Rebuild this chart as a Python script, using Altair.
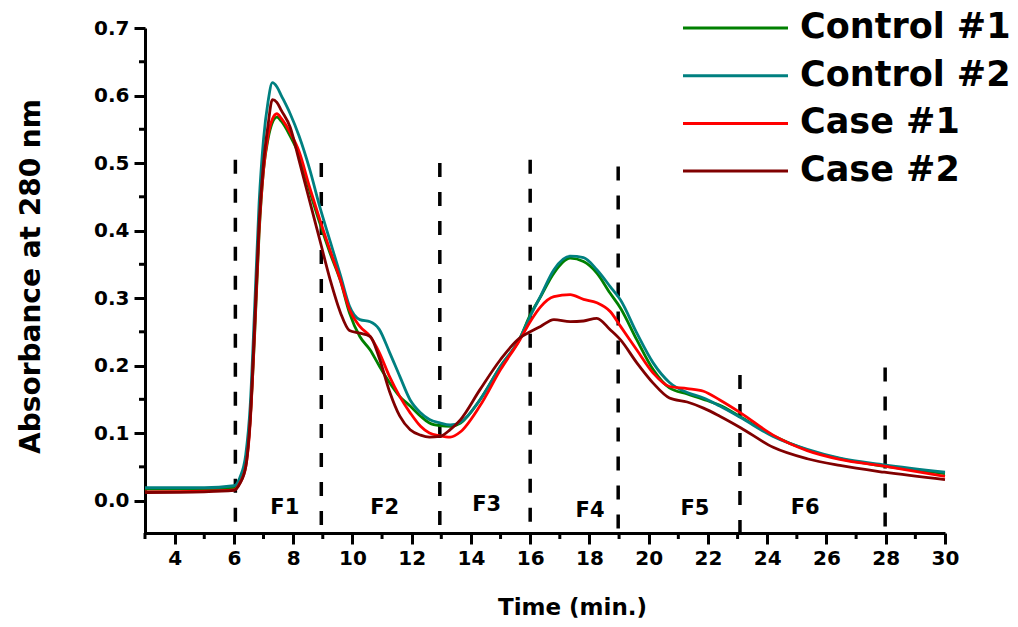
import altair as alt
import pandas as pd

# Elution time grid (min) shared by the four chromatograms
time_min = [3.0, 5.0, 6.0, 6.2, 6.4, 6.55, 6.7, 6.85, 7.0, 7.15, 7.3, 7.45, 7.6, 7.9,
            8.2, 8.55, 8.9, 9.25, 9.6, 9.9, 10.25, 10.6, 10.9, 11.25, 11.6, 11.95,
            12.3, 12.6, 12.95, 13.3, 13.65, 14.3, 15.0, 15.65, 16.0, 16.35, 16.8,
            17.35, 17.8, 18.25, 18.7, 19.05, 19.6, 20.15, 20.7, 21.3, 21.85, 22.4,
            23.1, 24.2, 25.35, 26.45, 27.95, 30.0]

# Absorbance at 280 nm for each run
control_1 = [0.017, 0.017, 0.019, 0.028, 0.055, 0.12, 0.245, 0.395, 0.49, 0.535, 0.56,
             0.568, 0.562, 0.54, 0.512, 0.46, 0.411, 0.366, 0.325, 0.278, 0.243, 0.223,
             0.2, 0.175, 0.154, 0.14, 0.125, 0.115, 0.111, 0.11, 0.115, 0.149, 0.199,
             0.24, 0.275, 0.302, 0.337, 0.359, 0.354, 0.337, 0.307, 0.285, 0.238,
             0.194, 0.167, 0.158, 0.15, 0.141, 0.124, 0.096, 0.075, 0.062, 0.051, 0.04]
control_2 = [0.019, 0.019, 0.022, 0.034, 0.068, 0.14, 0.285, 0.44, 0.535, 0.59, 0.619,
             0.613, 0.6, 0.573, 0.54, 0.492, 0.435, 0.384, 0.333, 0.288, 0.268,
             0.265, 0.254, 0.22, 0.184, 0.149, 0.13, 0.12, 0.115, 0.112, 0.116, 0.149,
             0.199, 0.24, 0.273, 0.303, 0.342, 0.362, 0.36, 0.342, 0.317, 0.297,
             0.248, 0.204, 0.175, 0.16, 0.152, 0.14, 0.123, 0.095, 0.076, 0.063,
             0.053, 0.042]
case_1 = [0.013, 0.014, 0.016, 0.026, 0.05, 0.115, 0.25, 0.4, 0.49, 0.54, 0.565, 0.573,
          0.566, 0.545, 0.517, 0.465, 0.416, 0.37, 0.326, 0.283, 0.258, 0.243, 0.22,
          0.184, 0.154, 0.13, 0.11, 0.1, 0.096, 0.094, 0.102, 0.14, 0.194, 0.238,
          0.265, 0.287, 0.302, 0.305, 0.298, 0.293, 0.28, 0.258, 0.223, 0.189, 0.169,
          0.166, 0.162, 0.149, 0.13, 0.097, 0.074, 0.061, 0.051, 0.036]
case_2 = [0.012, 0.013, 0.015, 0.025, 0.05, 0.12, 0.26, 0.41, 0.5, 0.555, 0.594, 0.59,
          0.578, 0.553, 0.504, 0.445, 0.386, 0.327, 0.278, 0.252, 0.248, 0.243, 0.212,
          0.162, 0.125, 0.105, 0.097, 0.094, 0.095, 0.105, 0.12, 0.164, 0.209, 0.241,
          0.25, 0.258, 0.268, 0.265, 0.266, 0.27, 0.253, 0.238, 0.204, 0.174, 0.152,
          0.146, 0.137, 0.125, 0.108, 0.079, 0.062, 0.052, 0.042, 0.031]

series_names = ["Control #1", "Control #2", "Case #1", "Case #2"]
series_colors = ["#008000", "#008080", "#ff0000", "#800000"]

# Fraction boundaries (dashed markers) and fraction names
cut_times = [6.05, 8.95, 12.95, 16.0, 18.97, 23.08, 27.98]
cut_tops = [0.505, 0.5, 0.5, 0.505, 0.495, 0.186, 0.197]
fraction_names = ["F1", "F2", "F3", "F4", "F5", "F6"]
fraction_times = [7.72, 11.09, 14.53, 18.02, 21.56, 25.28]
fraction_levels = [-0.011, -0.011, -0.007, -0.015, -0.013, -0.011]

# Axis ticks
x_major = [4, 6, 8, 10, 12, 14, 16, 18, 20, 22, 24, 26, 28, 30]
x_minor = [3, 5, 7, 9, 11, 13, 15, 17, 19, 21, 23, 25, 27, 29]
y_major = [0.0, 0.1, 0.2, 0.3, 0.4, 0.5, 0.6, 0.7]
y_minor = [0.05, 0.15, 0.25, 0.35, 0.45, 0.55, 0.65]

FONT = "DejaVu Sans"
W, H = 800, 505

rows = []
for name, vals in zip(series_names, [control_1, control_2, case_1, case_2]):
    for t, v in zip(time_min, vals):
        rows.append({"series": name, "time": t, "absorbance": v})
curves = pd.DataFrame(rows)

cuts = pd.DataFrame({"time": cut_times, "absorbance": cut_tops})
fractions = pd.DataFrame({"time": fraction_times, "absorbance": fraction_levels,
                          "label": fraction_names})
xminor_df = pd.DataFrame({"time": x_minor})
yminor_df = pd.DataFrame({"absorbance": y_minor})

x_axis = alt.Axis(
    values=x_major, format="d", grid=False,
    domainColor="black", domainWidth=3, tickColor="black", tickWidth=3, tickSize=11,
    labelFont=FONT, labelFontSize=20, labelFontWeight="bold", labelColor="black",
    labelPadding=4, labelFlush=False,
    title="Time (min.)", titleFont=FONT, titleFontSize=23, titleFontWeight="bold",
    titleColor="black", titleX=427, titleY=74, titleAlign="center",
    titleBaseline="middle",
)
y_axis = alt.Axis(
    values=y_major, format=".1f", grid=False,
    domainColor="black", domainWidth=3, tickColor="black", tickWidth=3, tickSize=11,
    labelFont=FONT, labelFontSize=20, labelFontWeight="bold", labelColor="black",
    labelPadding=5,
    title="Absorbance at 280 nm", titleFont=FONT, titleFontSize=28,
    titleFontWeight="bold", titleColor="black", titleX=-114, titleY=248,
    titleAngle=-90, titleAlign="center", titleBaseline="middle",
)

X = alt.X("time:Q", scale=alt.Scale(domain=[3, 30], nice=False, zero=False), axis=x_axis)
Y = alt.Y("absorbance:Q", scale=alt.Scale(domain=[-0.048, 0.7], nice=False, zero=False),
          axis=y_axis)

layers = []

# Minor ticks on both axes
layers.append(alt.Chart(xminor_df).mark_rule(color="black", strokeWidth=3).encode(
    x=X, y=alt.value(H), y2=alt.value(H + 6)))
layers.append(alt.Chart(yminor_df).mark_rule(color="black", strokeWidth=3).encode(
    y=Y, x=alt.value(0), x2=alt.value(-6)))

# Dashed fraction boundaries
layers.append(alt.Chart(cuts).mark_rule(color="black", strokeWidth=3.5,
                                        strokeDash=[14, 15]).encode(
    x=X, y=Y, y2=alt.value(H)))

# Fraction names
layers.append(alt.Chart(fractions).mark_text(
    font=FONT, fontSize=21, fontWeight="bold", color="black",
    align="center", baseline="middle").encode(x=X, y=Y, text="label:N"))

# Chromatogram traces
for name, col in zip(series_names, series_colors):
    layers.append(
        alt.Chart(curves).transform_filter(alt.datum.series == name)
        .mark_line(color=col, strokeWidth=2.8, interpolate="monotone")
        .encode(x=X, y=Y)
    )

# Legend in the top-right corner
row_gap = 47.7
for i, (name, col) in enumerate(zip(series_names, series_colors)):
    entry = pd.DataFrame({"series": [name]})
    layers.append(alt.Chart(entry).mark_rule(color=col, strokeWidth=3).encode(
        x=alt.value(538), x2=alt.value(643), y=alt.value(i * row_gap)))
    layers.append(alt.Chart(entry).mark_text(
        font=FONT, fontSize=35, fontWeight="bold", color="black",
        align="left", baseline="middle").encode(
        x=alt.value(655), y=alt.value(i * row_gap - 1), text="series:N"))

chart = alt.layer(*layers).properties(
    width=W, height=H,
    autosize=alt.AutoSizeParams(type="none"),
    padding={"left": 145, "top": 28, "right": 73, "bottom": 94},
    background="white",
).configure_view(stroke=None)

chart.save("out.html", embed_options={"renderer": "svg", "actions": False})
